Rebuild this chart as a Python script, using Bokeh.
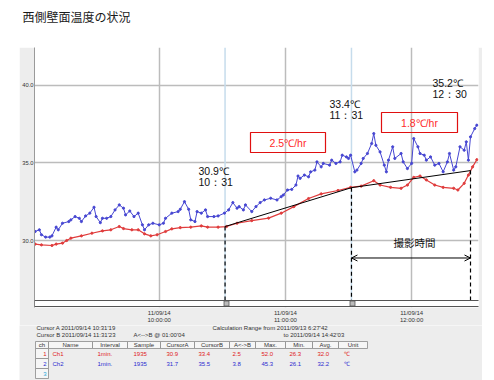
from bokeh.plotting import figure
from bokeh.layouts import column, row
from bokeh.models import Range1d, FixedTicker, Label, BoxAnnotation, Span, Arrow, OpenHead, PrintfTickFormatter, Spacer
from bokeh.embed import file_html
from bokeh.resources import INLINE

TITLE = "西側壁面温度の状況"

# minutes after 09:00 on 2011/09/14
blue_t = [1, 3, 4, 6, 8, 9, 11, 12, 14, 17, 18, 20, 22, 23, 25, 27, 29, 30, 32, 33,
          35, 37, 39, 41, 43, 44, 46, 48, 50, 52, 53, 55, 57, 60, 62, 63, 66, 69, 70, 72,
          74, 75, 77, 78, 80, 82, 83, 86, 88, 91, 93, 95, 97, 98, 100, 101, 104, 106, 108, 110,
          113, 116, 118, 119, 121, 123, 125, 126, 127, 129, 131, 132, 134, 135, 137, 138, 141, 142, 144, 146,
          147, 149, 150, 151, 153, 154, 156, 157, 159, 161, 162, 163, 165, 167, 168, 169, 171, 172, 175, 176,
          178, 180, 181, 183, 184, 186, 187, 189, 191, 193, 195, 197, 198, 200, 201, 203, 205, 206, 207, 208,
          210, 211]
blue_v = [30.58, 30.69, 30.37, 30.22, 30.22, 30.30, 30.86, 30.69, 31.11, 31.22, 31.33, 31.54, 31.43, 31.22, 31.58, 31.76, 32.14, 31.54, 31.15, 31.43,
          31.43, 31.54, 31.97, 32.29, 32.08, 31.65, 31.90, 31.54, 31.76, 31.01, 30.69, 31.01, 31.11, 31.01, 31.11, 31.43, 31.76, 31.86, 32.01, 32.50,
          32.01, 31.33, 31.22, 31.86, 31.76, 31.97, 31.54, 31.54, 31.58, 31.76, 31.97, 32.44, 32.08, 32.18, 31.97, 32.29, 31.86, 32.18, 32.44, 32.61,
          32.72, 32.61, 32.82, 32.93, 33.25, 33.29, 33.57, 34.15, 34.00, 34.21, 34.10, 34.42, 34.53, 35.06, 34.74, 34.96, 34.85, 35.17, 34.96, 35.06,
          35.49, 35.38, 35.28, 35.49, 34.42, 34.53, 34.96, 35.28, 35.60, 36.24, 36.88, 36.13, 35.70, 34.85, 34.42, 35.17, 36.03, 35.28, 35.60, 35.06,
          34.63, 34.96, 36.56, 36.03, 35.60, 35.49, 35.17, 35.38, 34.85, 34.96, 34.42, 35.06, 35.60, 34.53, 34.74, 36.03, 35.81, 36.35, 35.17, 36.67,
          37.20, 37.42]

red_t = [1, 4, 9, 11, 14, 16, 18, 23, 28, 33, 37, 41, 43, 47, 50, 53, 56, 59, 63, 66,
         70, 75, 80, 83, 88, 92, 97, 104, 112, 118, 124, 131, 137, 145, 151, 156, 162, 165, 170, 175,
         178, 181, 184, 187, 191, 195, 200, 202, 205, 207, 209, 211]
red_v = [29.77, 29.72, 29.68, 29.77, 29.83, 30.00, 30.15, 30.30, 30.47, 30.62, 30.69, 30.90, 30.77, 30.69, 30.69, 30.43, 30.30, 30.37, 30.58, 30.75,
         30.83, 30.86, 30.94, 30.86, 30.86, 30.90, 31.11, 31.28, 31.44, 31.76, 32.18, 32.70, 33.00, 33.22, 33.42, 33.50, 33.85, 33.57, 33.42, 33.36,
         33.57, 34.06, 34.15, 33.90, 33.57, 33.42, 33.36, 33.25, 33.68, 34.21, 34.74, 35.20]

cursor_t = [91.3, 151.4, 208.0]
cursor_v = [30.9, 33.4, 34.5]
cursor_notes = [("30.9℃", "10：31"), ("33.4℃", "11：31"), ("35.2℃", "12：30")]
rate_notes = ["2.5℃/hr", "1.8℃/hr"]
span_note = "撮影時間"

hour_ticks = [60, 120, 180]
hour_labels = ["11/09/14\n10:00:00", "11/09/14\n11:00:00", "11/09/14\n12:00:00"]
y_ticks = [30, 35, 40]

info_lines = ["Cursor A 2011/09/14 10:31'19", "Cursor B 2011/09/14 11:31'23",
              "A<-->B @ 01:00'04", "Calculation Range from 2011/09/13  6:27'42",
              "to 2011/09/14 14:42'03"]
table_head = ["ch", "Name", "Interval", "Sample", "CursorA", "CursorB", "A<->B", "Max.", "Min.", "Avg.", "Unit"]
row_ch1 = ["1", "Ch1", "1min.", "1935", "30.9", "33.4", "2.5", "52.0", "26.3", "32.0", "℃"]
row_ch2 = ["2", "Ch2", "1min.", "1935", "31.7", "35.5", "3.8", "45.3", "26.1", "32.2", "℃"]
row_ch3 = ["3"]

# ---------------- layout (page pixels) ----------------
PW = 494
GRAY = "#ededed"
PANEL_L, PANEL_R = 19, 482          # gray panel x extent
TOP_H = 47                          # title strip height
FL, FR, FT, FB = 33, 478, 47, 308   # main frame (page px)
MAIN_BOTTOM = 325                   # main figure bottom (page px)
PAGE_BOTTOM = 380
Y_LO, Y_HI = 25.69, 42.42
X_LO, X_HI = 0.7, 211.8
SCROLL_T, SCROLL_B = 301, 307

BLUE = "#4646d2"
RED = "#e03c3c"


def make_helpers(fig, left_px, bottom_px):
    def box(l, r, t, b, fill=None, line=None, lw=1, level="annotation"):
        fig.add_layout(BoxAnnotation(left=l - left_px, right=r - left_px, top=bottom_px - t, bottom=bottom_px - b,
                                     left_units="screen", right_units="screen",
                                     top_units="screen", bottom_units="screen",
                                     fill_color=fill if fill else "white",
                                     fill_alpha=1.0 if fill else 0.0,
                                     line_color=line if line else "black", line_width=lw,
                                     line_alpha=1.0 if line else 0.0,
                                     level=level, editable=False))

    def txt(px, py, text, size, color="#222222", font="Liberation Sans", align="left", baseline="middle"):
        fig.add_layout(Label(x=px - left_px, y=bottom_px - py, x_units="screen", y_units="screen", text=text,
                             text_font=font, text_font_size=f"{size}px", text_color=color,
                             text_align=align, text_baseline=baseline))
    return box, txt


def bare(fig):
    fig.outline_line_color = None
    fig.xgrid.visible = False
    fig.ygrid.visible = False


# ---------------- title strip ----------------
ptitle = figure(width=PW, height=TOP_H, output_backend="svg", toolbar_location=None,
                x_axis_location=None, y_axis_location=None,
                x_range=Range1d(0, 1), y_range=Range1d(0, 1),
                min_border=0, min_border_left=0, min_border_right=0, min_border_top=0, min_border_bottom=0)
bare(ptitle)
ptitle.background_fill_color = "white"
ptitle.border_fill_color = "white"
_, ttxt = make_helpers(ptitle, 0, TOP_H)
ttxt(22, 15.5, TITLE, 12, color="#1a1a1a", font="Noto Sans CJK JP")

# ---------------- main chart ----------------
p = figure(width=PANEL_R - PANEL_L, height=MAIN_BOTTOM - TOP_H, output_backend="svg", toolbar_location=None,
           x_range=Range1d(X_LO, X_HI), y_range=Range1d(Y_LO, Y_HI),
           min_border_left=FL - PANEL_L, min_border_right=PANEL_R - FR,
           min_border_top=FT - TOP_H, min_border_bottom=MAIN_BOTTOM - FB)
p.outline_line_color = None
p.background_fill_color = "white"
p.border_fill_color = GRAY
box, txt = make_helpers(p, FL, FB)

p.xgrid.ticker = FixedTicker(ticks=hour_ticks)
p.ygrid.ticker = FixedTicker(ticks=y_ticks)
p.grid.grid_line_color = "#bcbcbc"
p.grid.grid_line_width = 1.5

for t in cursor_t[:2]:
    p.add_layout(Span(location=t, dimension="height", line_color="#c6dcec", line_width=1.5, level="underlay"))

p.yaxis.ticker = FixedTicker(ticks=y_ticks)
p.yaxis.formatter = PrintfTickFormatter(format="%.1f")
p.yaxis.major_label_text_font_size = "5.8px"
p.yaxis.major_label_text_font = "Liberation Sans"
p.yaxis.major_label_text_color = "#333333"
p.yaxis.major_tick_out = 0
p.yaxis.major_tick_in = 0
p.yaxis.minor_tick_out = 0
p.yaxis.minor_tick_in = 0
p.yaxis.major_label_standoff = 1
p.yaxis.axis_line_color = "#9a9a9a"

p.xaxis.ticker = FixedTicker(ticks=hour_ticks)
p.xaxis.major_label_overrides = dict(zip(hour_ticks, hour_labels))
p.xaxis.major_label_text_font_size = "6px"
p.xaxis.major_label_text_font = "Liberation Sans"
p.xaxis.major_label_text_color = "#333333"
p.xaxis.major_tick_out = 0
p.xaxis.major_tick_in = 0
p.xaxis.minor_tick_out = 0
p.xaxis.minor_tick_in = 0
p.xaxis.major_label_standoff = 2
p.xaxis.axis_line_color = None

# data
p.line(blue_t, blue_v, line_color=BLUE, line_width=1)
p.scatter(blue_t, blue_v, size=2.2, color=BLUE)
p.line(red_t, red_v, line_color=RED, line_width=1.2)
p.scatter(red_t, red_v, size=2.2, color=RED)

# trend and cursor drop lines
px_per_deg = (FB - FT) / (Y_HI - Y_LO)
y_scroll = Y_LO + (FB - SCROLL_T) / px_per_deg
p.line(cursor_t, cursor_v, line_color="black", line_width=1)
p.segment(x0=cursor_t, y0=cursor_v, x1=cursor_t, y1=[y_scroll] * len(cursor_t),
          line_color="black", line_width=1.2, line_dash="4 3")

y_arrow = Y_LO + (FB - 258.3) / px_per_deg
p.add_layout(Arrow(start=OpenHead(size=6, line_width=1), end=OpenHead(size=6, line_width=1),
                   x_start=cursor_t[1], x_end=cursor_t[2], y_start=y_arrow, y_end=y_arrow,
                   line_width=1, line_color="black"))

note_pos = [(197, 171.5, 182.5), (328, 104.5, 115.5), (431, 83.3, 94.3)]
for (a, b), (px, py1, py2) in zip(cursor_notes, note_pos):
    txt(px, py1, a, 10.5, color="#111111")
    txt(px, py2, b, 10.5, color="#111111")

rate_boxes = [(249, 324, 133, 153), (380, 456, 113, 133)]
for note, (l, r, t, b) in zip(rate_notes, rate_boxes):
    box(l, r, t, b, line="#e01010", lw=1.2)
    txt((l + r) / 2, (t + b) / 2, note, 10.5, color="#ff2a2a", align="center")

txt(413, 243, span_note, 10.5, color="#111111", font="Noto Sans CJK JP", align="center")

# scrollbar at the bottom of the plot
box(FL, FR, SCROLL_B, FB, fill=GRAY, level="underlay")
box(FL, FR, SCROLL_T, SCROLL_B, fill="white", line="#555555", lw=1)
for cx in (225, 351):
    box(cx - 2.5, cx + 2.5, SCROLL_T + 0.5, SCROLL_B - 0.5, fill="#bbbbbb", line="#555555", lw=0.8)

# ---------------- info + table strip ----------------
ptab = figure(width=PANEL_R - PANEL_L, height=PAGE_BOTTOM - MAIN_BOTTOM, output_backend="svg", toolbar_location=None,
              x_axis_location=None, y_axis_location=None,
              x_range=Range1d(0, 1), y_range=Range1d(0, 1),
              min_border=0, min_border_left=0, min_border_right=0, min_border_top=0, min_border_bottom=0)
bare(ptab)
ptab.background_fill_color = GRAY
ptab.border_fill_color = GRAY
tbox, ttx = make_helpers(ptab, PANEL_L, PAGE_BOTTOM)

info_pos = [(36, 327.5), (36, 334), (133, 334), (212, 327.5), (283, 334)]
for s, (px, py) in zip(info_lines, info_pos):
    ttx(px, py, s, 6, color="#333333")

seps = [35, 48, 92, 127, 160, 194, 229, 255, 285, 312, 338, 367]
for i in range(len(table_head)):
    tbox(seps[i], seps[i + 1], 341, 348, fill="#f6f6f6", line="#8a8a8a", lw=0.8)
    ttx((seps[i] + seps[i + 1]) / 2, 344.5, table_head[i], 6, color="#333333", align="center")
for rt in (348, 358, 368):
    tbox(seps[0], seps[1], rt, rt + 10, fill="#f6f6f6", line="#8a8a8a", lw=0.8)

val_x = [46, 52, 97, 133, 166, 198, 232, 261, 289, 317, 343]
rows = [(row_ch1, "#e02020", 353), (row_ch2, "#2a2ad0", 363), (row_ch3, "#2aa8d8", 373)]
for vals, col, py in rows:
    for j, v in enumerate(vals):
        ttx(val_x[j], py, v, 6, color=col, align="right" if j == 0 else "left")

layout = column(ptitle,
                row(Spacer(width=PANEL_L, height=MAIN_BOTTOM - TOP_H), p),
                row(Spacer(width=PANEL_L, height=PAGE_BOTTOM - MAIN_BOTTOM), ptab))

open("out.html", "w").write(file_html(layout, INLINE))
